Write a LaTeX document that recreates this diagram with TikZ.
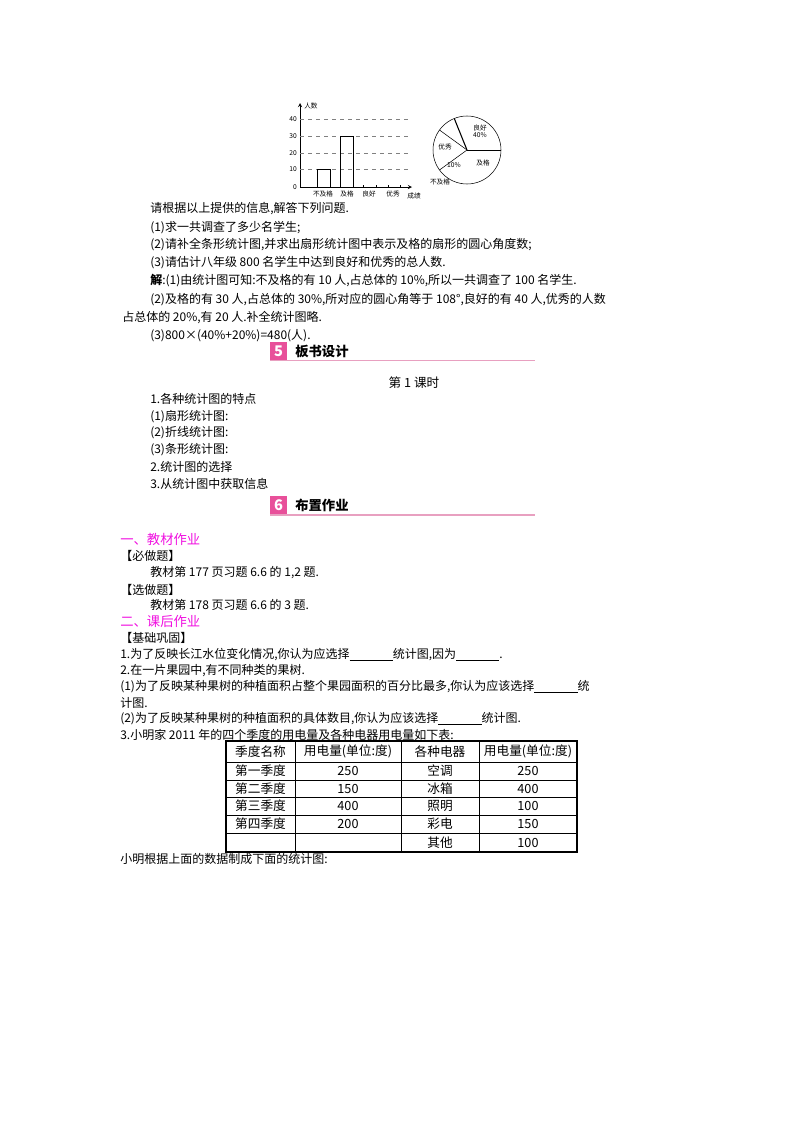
\documentclass[tikz,border=0pt]{standalone}
\usepackage{fontspec}
\setmainfont{Noto Sans CJK SC}
\definecolor{mag}{HTML}{F010E0}
\definecolor{pk}{HTML}{E8509A}
\definecolor{pkl}{HTML}{E8A0C0}
\begin{document}
\begin{tikzpicture}[x=0.75pt,y=-0.75pt,
  t/.style={anchor=west,inner sep=0pt,font=\fontsize{9}{11}\selectfont},
  s/.style={inner sep=0pt,font=\fontsize{5}{6}\selectfont},
  h/.style={anchor=west,inner sep=0pt,font=\fontsize{10}{12}\selectfont\bfseries},
  m/.style={t,text=mag,font=\fontsize{10}{12}\selectfont},
  c/.style={inner sep=0pt,font=\fontsize{9.5}{11}\selectfont}]
\newcommand{\blk}{\underline{\hspace{3.6em}}}
\useasboundingbox (0,0) rectangle (800,1132);
% bar chart
\draw[->,>=stealth] (300,187) -- (300,103);
\draw[->,>=stealth] (300,187) -- (412,187);
\foreach \v/\y in {10/169,20/153,30/136,40/119}{
  \draw[dashed,gray] (300,\y) -- (408,\y);
  \node[s,anchor=east] at (297,\y) {\v};}
\node[s,anchor=east] at (297,187) {0};
\node[s,anchor=west] at (304,106) {人数};
\draw (317,187) rectangle (330,169);
\draw (340,187) rectangle (353,136);
\foreach \x in {363,376,388,400}{\draw (\x,187)--(\x,185);}
\node[s] at (323,194) {不及格};
\node[s] at (347,194) {及格};
\node[s] at (369,194) {良好};
\node[s] at (393,194) {优秀};
\node[s] at (414,196) {成绩};
% pie
\coordinate (pc) at (467,150);
\draw (pc) circle (34);
\draw (pc) -- ++(0:34);
\draw (pc) -- ++(144:34);
\draw (pc) -- ++(-144:34);
\draw[thick] (pc) -- ++(-112:34);
\node[s] at (480,128) {良好};
\node[s] at (480,135) {40\%};
\node[s] at (445,147) {优秀};
\node[s] at (454,165) {10\%};
\node[s] at (483,163) {及格};
\node[s] at (440,182) {不及格};
% text
\node[t] at (150,209) {请根据以上提供的信息,解答下列问题.};
\node[t] at (150,228) {(1)求一共调查了多少名学生;};
\node[t] at (150,245) {(2)请补全条形统计图,并求出扇形统计图中表示及格的扇形的圆心角度数;};
\node[t] at (150,263) {(3)请估计八年级 800 名学生中达到良好和优秀的总人数.};
\node[t] at (150,281) {\textbf{解}:(1)由统计图可知:不及格的有 10 人,占总体的 10\%,所以一共调查了 100 名学生.};
\node[t] at (150,300) {(2)及格的有 30 人,占总体的 30\%,所对应的圆心角等于 108°,良好的有 40 人,优秀的人数};
\node[t] at (122,318) {占总体的 20\%,有 20 人.补全统计图略.};
\node[t] at (150,336) {(3)800×(40\%+20\%)=480(人).};
% header 5
\fill[pk] (270,342) rectangle (287,360);
\node[inner sep=0pt,text=white,font=\fontsize{11}{12}\selectfont\bfseries\itshape] at (278.5,351) {5};
\draw[pkl,thick] (270,360.5) -- (535,360.5);
\node[h] at (295,351) {板书设计};
\node[c] at (414,383) {第 1 课时};
\node[t] at (150,399) {1.各种统计图的特点};
\node[t] at (150,417) {(1)扇形统计图:};
\node[t] at (150,433) {(2)折线统计图:};
\node[t] at (150,450) {(3)条形统计图:};
\node[t] at (150,467) {2.统计图的选择};
\node[t] at (150,484) {3.从统计图中获取信息};
% header 6
\fill[pk] (270,496) rectangle (287,514);
\node[inner sep=0pt,text=white,font=\fontsize{11}{12}\selectfont\bfseries\itshape] at (278.5,505) {6};
\draw[pkl,thick] (270,515) -- (535,515);
\node[h] at (295,505) {布置作业};
\node[m] at (120,539) {一、教材作业};
\node[t] at (120,556) {【必做题】};
\node[t] at (150,573) {教材第 177 页习题 6.6 的 1,2 题.};
\node[t] at (120,590) {【选做题】};
\node[t] at (150,605) {教材第 178 页习题 6.6 的 3 题.};
\node[m] at (120,621) {二、课后作业};
\node[t] at (120,638) {【基础巩固】};
\node[t] at (120,655) {1.为了反映长江水位变化情况,你认为应选择\blk 统计图,因为\blk .};
\node[t] at (120,671) {2.在一片果园中,有不同种类的果树.};
\node[t] at (120,687) {(1)为了反映某种果树的种植面积占整个果园面积的百分比最多,你认为应该选择\blk 统};
\node[t] at (120,703) {计图.};
\node[t] at (120,719) {(2)为了反映某种果树的种植面积的具体数目,你认为应该选择\blk 统计图.};
\node[t] at (120,735) {3.小明家 2011 年的四个季度的用电量及各种电器用电量如下表:};
% table
\draw[thick] (226,741) rectangle (577,852);
\foreach \y in {762,780,797,815,833}{\draw (226,\y) -- (577,\y);}
\foreach \x in {295,401,479}{\draw (\x,741) -- (\x,852);}
\foreach \a/\b/\cc/\d/\y in {季度名称/用电量(单位:度)/各种电器/用电量(单位:度)/751.5,
  第一季度/250/空调/250/771,第二季度/150/冰箱/400/788.5,第三季度/400/照明/100/806,
  第四季度/200/彩电/150/824,//其他/100/842.5}{
  \node[c] at (260.5,\y) {\a};
  \node[c] at (348,\y) {\b};
  \node[c] at (440,\y) {\cc};
  \node[c] at (528,\y) {\d};}
\node[t] at (120,859) {小明根据上面的数据制成下面的统计图:};
\end{tikzpicture}
\end{document}
